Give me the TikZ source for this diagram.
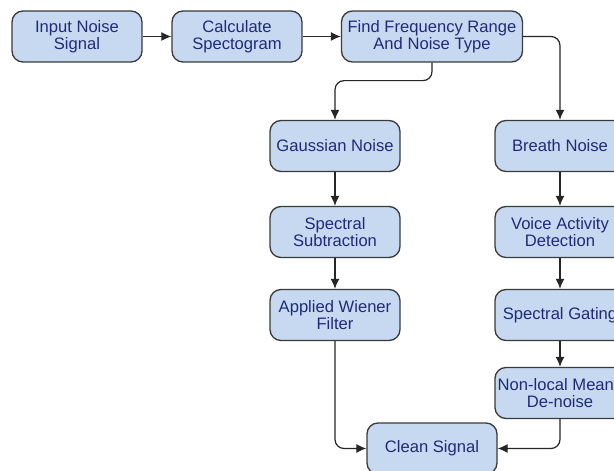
\documentclass[tikz,border=0pt]{standalone}
\usepackage{fontspec}
\setmainfont{Liberation Sans}
\usetikzlibrary{arrows.meta}

\definecolor{boxfill}{HTML}{C6D9F0}
\definecolor{boxline}{HTML}{3A3A3A}
\definecolor{boxtext}{HTML}{1F2B7A}

\tikzset{
  stage/.style={draw=boxline, line width=1.3pt, fill=boxfill, rounded corners=11pt,
    minimum width=130pt, minimum height=51pt, align=center, text=boxtext,
    font=\fontsize{16.6}{16.8}\selectfont, inner sep=0pt},
  flow/.style={line width=1.2pt, draw=black!85, rounded corners=9pt,
    -{Latex[length=10pt,width=9pt]}}
}

\begin{document}
\begin{tikzpicture}[x=1pt,y=1pt]
\useasboundingbox (0,0) rectangle (614,471);

% draw nodes of the top row
\node[stage] (input) at (77,434.5) {Input Noise\\Signal};
\node[stage] (spectro) at (237,434.5) {Calculate\\Spectogram};
\node[stage, minimum width=181pt] (findrange) at (432,434.5) {Find Frequency Range\\And Noise Type};

% draw nodes of the two branches
\node[stage] (gauss) at (335,325) {Gaussian Noise};
\node[stage] (subtract) at (335,239) {Spectral\\Subtraction};
\node[stage] (wiener) at (335,156) {Applied Wiener\\Filter};

\node[stage] (breath) at (560,325) {Breath Noise};
\node[stage] (vad) at (560,239) {Voice Activity\\Detection};
\node[stage] (gating) at (560,156) {Spectral Gating};
\node[stage] (nlmeans) at (560,78) {Non-local Means\\De-noise};

\node[stage] (clean) at (432,22.5) {Clean Signal};

% draw connectors
\draw[flow] (input) -- (spectro);
\draw[flow] (spectro) -- (findrange);
\draw[flow] (findrange.south) -- ++(0,-18) -| (gauss.north);
\draw[flow] (findrange.east) -| (breath.north);
\foreach \a/\b in {gauss/subtract,subtract/wiener,breath/vad,vad/gating,gating/nlmeans}
\draw[flow] (\a) -- (\b);
\draw[flow] (wiener.south) |- (clean.west);
\draw[flow] (nlmeans.south) |- (clean.east);
\end{tikzpicture}
\end{document}
